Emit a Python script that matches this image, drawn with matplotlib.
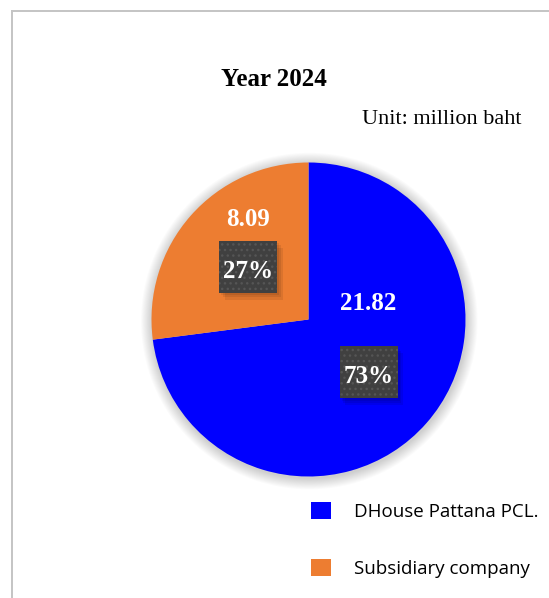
import numpy as np
import matplotlib
matplotlib.use('Agg')
import matplotlib.pyplot as plt
from matplotlib.patches import Rectangle, Circle
from matplotlib.lines import Line2D

# datos
categorias = ['DHouse Pattana PCL.', 'Subsidiary company']
valores = [21.82, 8.09]
colores = ['#0000ff', '#ed7d31']
titulo = 'Year 2024'
unidad = 'Unit: million baht'

W, H = 549, 598
fig = plt.figure(figsize=(W / 100, H / 100), dpi=100)
fig.patch.set_facecolor('white')

# marco gris (se sale por la derecha y abajo)
fig.add_artist(Line2D([11.5 / W, 11.5 / W], [0, 1 - 10.5 / H], color='#c4c4c4', lw=1.4))
fig.add_artist(Line2D([11.5 / W, 1], [1 - 10.5 / H, 1 - 10.5 / H], color='#c4c4c4', lw=1.4))

# ejes del pastel: centro (308.5, 319.5) px, radio 157 px
r = 157
lim = 1.1
lado = 2 * lim * r
cx, cy = 308.5, 319.5
ax = fig.add_axes([(cx - lado / 2) / W, (H - cy - lado / 2) / H, lado / W, lado / H])

# sombra difusa alrededor del pastel
for k in range(12):
    ax.add_patch(Circle((0.005, -0.01), 1.0 + 0.006 * (12 - k), color='#000000',
                        alpha=0.016, lw=0, zorder=0))

wedges, _ = ax.pie(valores, colors=colores, startangle=90, counterclock=False,
                   radius=1.0, wedgeprops=dict(linewidth=0, zorder=1))
ax.set_xlim(-lim, lim)
ax.set_ylim(-lim, lim)
ax.set_aspect('equal')
ax.axis('off')

total = sum(valores)
pct_dist = 0.51
# desplazamiento vertical de la etiqueta de valor respecto al cuadro (en radios)
desp_valor = [(0.0, 0.47), (0.0, 0.33)]
baja = 4.5 / r  # el texto centrado queda algo alto
bw, bh = 58 / r, 52 / r
plt.rcParams['hatch.linewidth'] = 1.0
for w, v, (ox, oy) in zip(wedges, valores, desp_valor):
    ang = np.deg2rad((w.theta1 + w.theta2) / 2)
    px, py = pct_dist * np.cos(ang), pct_dist * np.sin(ang)
    # sombra del cuadro
    for s in range(3):
        ax.add_patch(Rectangle((px - bw / 2 + 0.012 * (s + 1), py - bh / 2 - 0.015 * (s + 1)),
                               bw, bh, fc='black', alpha=0.08, lw=0, zorder=3))
    ax.add_patch(Rectangle((px - bw / 2, py - bh / 2), bw, bh, fc='#404040',
                           ec='#555555', lw=0, hatch='...', zorder=4))
    ax.text(px, py - baja, '%d%%' % round(100 * v / total), color='white', ha='center',
            va='center', fontsize=18, fontweight='bold', family='Liberation Serif', zorder=5)
    ax.text(px + ox, py + oy - baja, '%.2f' % v, color='white', ha='center', va='center',
            fontsize=18, fontweight='bold', family='Liberation Serif', zorder=5)

fig.text(273.5 / W, 1 - 79 / H, titulo, ha='center', va='center', fontsize=18,
         fontweight='bold', family='Liberation Serif')
fig.text(442 / W, 1 - 119 / H, unidad, ha='center', va='center', fontsize=16,
         family='Liberation Serif')

leg = fig.legend(wedges, categorias, loc='upper left', bbox_to_anchor=(311 / W, 1 - 502 / H),
                 frameon=False, handlelength=1.05, handleheight=1.05,
                 handletextpad=1.25, labelspacing=2.0, borderpad=0, borderaxespad=0,
                 prop={'family': 'Open Sans', 'size': 13.5})

fig.savefig('out.png', dpi=100)
